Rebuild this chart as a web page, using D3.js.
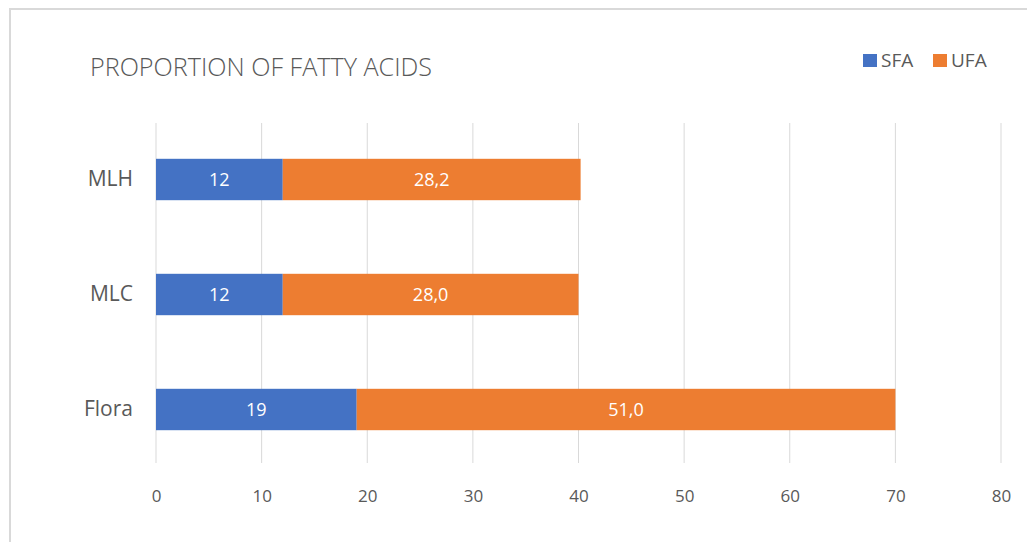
<!doctype html>
<html>
<head>
    <meta charset="UTF-8">
    <title>Proportion of fatty acids</title>
    <script src="https://cdn.jsdelivr.net/npm/d3@7"></script>
    <style>
        body { margin: 0; background: #fff; }
        text { font-family: "Open Sans", "Noto Sans", sans-serif; }
    </style>
</head>
<body>
    <script>
        // data
        var categories = ["MLH", "MLC", "Flora"];
        var sfa = [12, 12, 19];
        var ufa = [28.2, 28.0, 51.0];
        var seriesNames = ["SFA", "UFA"];
        var ticks = [0, 10, 20, 30, 40, 50, 60, 70, 80];

        var w = 1027, h = 542;
        var colors = ["#4472c4", "#ed7d31"];
        var textColor = "#595959";

        var svg = d3.select("body").append("svg")
            .attr("width", w)
            .attr("height", h);

        // chart frame
        svg.append("rect")
            .attr("x", 10).attr("y", 9)
            .attr("width", w + 10).attr("height", h + 10)
            .attr("fill", "none")
            .attr("stroke", "#d9d9d9")
            .attr("stroke-width", 2);

        var x = d3.scaleLinear().domain([0, 80]).range([156, 1001]);
        var y = d3.scaleBand().domain(categories).range([122, 467]).paddingInner(0.64).paddingOuter(0.32);

        // vertical gridlines
        svg.selectAll("line.grid")
            .data(ticks)
            .enter().append("line")
            .attr("class", "grid")
            .attr("x1", function (d) { return x(d); })
            .attr("x2", function (d) { return x(d); })
            .attr("y1", 123).attr("y2", 463)
            .attr("stroke", "#d9d9d9")
            .attr("stroke-width", 1);

        // x axis labels
        var xAxis = d3.axisBottom(x).tickValues(ticks).tickSize(0).tickPadding(0);
        var gx = svg.append("g").attr("transform", "translate(0,490)").call(xAxis);
        gx.select(".domain").remove();
        gx.selectAll("text")
            .attr("fill", textColor)
            .attr("font-size", 17)
            .attr("font-family", "Open Sans, sans-serif");

        // y axis labels
        var yAxis = d3.axisLeft(y).tickSize(0).tickPadding(0);
        var gy = svg.append("g").attr("transform", "translate(133,0)").call(yAxis);
        gy.select(".domain").remove();
        gy.selectAll("text")
            .attr("fill", textColor)
            .attr("font-size", 21)
            .attr("font-family", "Open Sans, sans-serif");

        // stacked data
        var rows = categories.map(function (c, i) {
            return { cat: c, SFA: sfa[i], UFA: ufa[i] };
        });
        var stack = d3.stack().keys(seriesNames)(rows);

        var layers = svg.selectAll("g.layer")
            .data(stack)
            .enter().append("g")
            .attr("class", "layer")
            .attr("fill", function (d, i) { return colors[i]; });

        layers.selectAll("rect")
            .data(function (d) { return d; })
            .enter().append("rect")
            .attr("x", function (d) { return x(d[0]); })
            .attr("y", function (d) { return y(d.data.cat); })
            .attr("width", function (d) { return x(d[1]) - x(d[0]); })
            .attr("height", y.bandwidth());

        // value labels
        layers.each(function (layer, li) {
            d3.select(this).selectAll("text")
                .data(layer)
                .enter().append("text")
                .attr("x", function (d) { return (x(d[0]) + x(d[1])) / 2; })
                .attr("y", function (d) { return y(d.data.cat) + y.bandwidth() / 2; })
                .attr("dy", "0.35em")
                .attr("text-anchor", "middle")
                .attr("fill", "#fff")
                .attr("font-size", 18)
                .text(function (d) {
                    var v = d[1] - d[0];
                    return li === 0 ? d3.format("d")(Math.round(v)) : d3.format(".1f")(v).replace(".", ",");
                });
        });

        // title
        svg.append("text")
            .attr("x", 90).attr("y", 76)
            .attr("fill", textColor)
            .attr("font-size", 25)
            .attr("font-weight", 300)
            .attr("textLength", 342)
            .attr("lengthAdjust", "spacingAndGlyphs")
            .text("PROPORTION OF FATTY ACIDS");

        // legend
        var legendX = [863, 933];
        var legend = svg.selectAll("g.legend")
            .data(seriesNames)
            .enter().append("g")
            .attr("class", "legend")
            .attr("transform", function (d, i) { return "translate(" + legendX[i] + ",54)"; });
        legend.append("rect")
            .attr("width", 14).attr("height", 13)
            .attr("fill", function (d, i) { return colors[i]; });
        legend.append("text")
            .attr("x", 18).attr("y", 13)
            .attr("fill", textColor)
            .attr("font-size", 19)
            .text(function (d) { return d; });
    </script>
</body>
</html>
